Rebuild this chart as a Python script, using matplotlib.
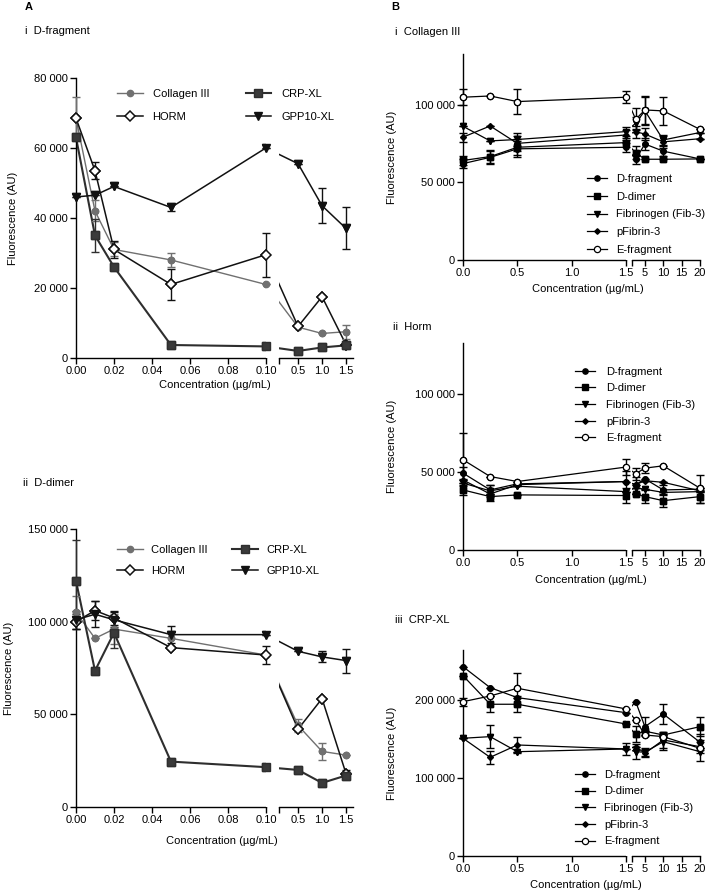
import numpy as np
import matplotlib.pyplot as plt

plt.rcParams['font.family'] = ['Liberation Sans', 'DejaVu Sans']
plt.rcParams['font.size'] = 8

# ---- panel A data (x = coating concentration) ----
a_x = [0, 0.01, 0.02, 0.05, 0.10, 0.5, 1.0, 1.5]
a_labels = ['Collagen III', 'HORM', 'CRP-XL', 'GPP10-XL']

# A-i: D-fragment
ai_means = [
    [68500, 42000, 31000, 28000, 21000, 8800, 7000, 7500],     # Collagen III
    [68500, 53500, 31000, 21000, 29500, 9000, 17500, 3800],    # HORM
    [63000, 35000, 26000, 3700, 3300, 2000, 3000, 3600],       # CRP-XL
    [46000, 46500, 49000, 43000, 60000, 55500, 43500, 37000],  # GPP10-XL
]
ai_sd = [
    [6000, 3000, 2000, 2000, 0, 0, 0, 2000],
    [0, 2500, 2500, 4500, 6300, 0, 0, 0],
    [0, 4700, 0, 0, 0, 0, 0, 0],
    [0, 0, 0, 1000, 0, 0, 5000, 6000],
]

# A-ii: D-dimer
aii_means = [
    [105000, 91000, 96000, 91000, 82000, 44000, 30000, 28000],
    [100000, 106000, 102000, 86000, 82000, 42000, 58500, 18000],
    [122000, 73500, 94000, 24500, 21500, 20000, 13000, 17000],
    [101000, 104000, 101000, 93000, 93000, 84000, 81000, 79000],
]
aii_sd = [
    [9000, 0, 8000, 4000, 0, 3500, 4500, 0],
    [4000, 5000, 4000, 0, 5000, 0, 0, 2000],
    [22000, 0, 8000, 0, 0, 0, 0, 2000],
    [5000, 7000, 4000, 4500, 0, 0, 3000, 6500],
]

# ---- panel B data ----
b_x = [0, 0.25, 0.5, 1.5, 2.5, 5, 10, 20]
b_labels = ['D-fragment', 'D-dimer', 'Fibrinogen (Fib-3)', 'pFibrin-3', 'E-fragment']

# B-i: Collagen III
bi_means = [
    [62000, 66000, 71500, 72500, 64800, 74600, 70000, 65000],
    [64000, 66500, 72500, 75500, 69000, 64800, 64800, 65000],
    [86000, 76600, 77500, 82600, 88000, 96000, 77200, 82000],
    [79000, 86200, 75000, 80400, 82500, 81000, 76000, 78000],
    [104700, 105500, 101900, 104700, 90500, 96500, 95900, 84000],
]
bi_sd = [
    [3000, 4000, 5000, 3000, 3000, 4000, 3000, 0],
    [3000, 4000, 5000, 3000, 4000, 0, 0, 0],
    [0, 0, 4000, 3000, 4000, 9000, 3000, 0],
    [3000, 0, 5000, 3000, 4000, 4000, 4000, 0],
    [5000, 0, 8000, 4000, 7000, 9000, 9000, 0],
]

# B-ii: Horm
bii_means = [
    [49400, 38600, 42500, 44000, 41900, 45700, 38600, 39100],
    [38600, 34300, 35400, 35000, 36000, 34300, 31700, 34300],
    [43000, 38000, 41000, 37500, 40000, 39000, 37000, 37500],
    [45000, 36000, 42000, 44000, 42000, 44500, 43500, 38000],
    [58000, 47200, 44000, 53300, 49000, 52600, 54100, 39700],
]
bii_sd = [
    [4000, 3000, 0, 7000, 5000, 0, 3000, 9000],
    [3000, 3000, 0, 5000, 0, 4000, 4000, 4000],
    [0, 4000, 0, 0, 0, 0, 0, 0],
    [0, 0, 0, 0, 0, 0, 0, 0],
    [17000, 0, 0, 5000, 4000, 3000, 0, 0],
]

# B-iii: CRP-XL
biii_means = [
    [242700, 215800, 203000, 183700, 197800, 165800, 182000, 145800],
    [231200, 194500, 194500, 169200, 156000, 160000, 155100, 165800],
    [150900, 153000, 133700, 137200, 133700, 133000, 146500, 133700],
    [150900, 126500, 142300, 137200, 140100, 131700, 148700, 140100],
    [197800, 205100, 215000, 188500, 174300, 155100, 153000, 138000],
]
biii_sd = [
    [0, 0, 0, 0, 0, 12000, 13000, 10000],
    [0, 10000, 10000, 0, 10000, 0, 0, 12000],
    [0, 15000, 0, 8000, 10000, 5000, 10000, 12000],
    [0, 8000, 10000, 0, 0, 5000, 10000, 8000],
    [5000, 0, 20000, 0, 0, 0, 0, 0],
]

a_styles = [
    dict(color='#707070', marker='o', ms=4.5, mfc='#707070', lw=1.0),
    dict(color='#111111', marker='D', ms=5.5, mfc='white', lw=1.1, mew=1.1),
    dict(color='#2e2e2e', marker='s', ms=5.5, mfc='#3a3a3a', lw=1.5),
    dict(color='#111111', marker='v', ms=5.5, mfc='#111111', lw=1.1),
]
b_styles = [
    dict(color='black', marker='o', ms=3.8, mfc='black', lw=0.9),
    dict(color='black', marker='s', ms=3.8, mfc='black', lw=0.9),
    dict(color='black', marker='v', ms=3.8, mfc='black', lw=0.9),
    dict(color='black', marker='D', ms=2.8, mfc='black', lw=0.9),
    dict(color='black', marker='o', ms=4.5, mfc='white', lw=0.9, mew=0.9),
]


def broken_scale(cut, gap, ratio):
    def fwd(x):
        x = np.asarray(x, dtype=float)
        return np.where(x <= cut, x, cut + gap + (x - cut) * ratio)

    def inv(y):
        y = np.asarray(y, dtype=float)
        return np.where(y <= cut, y,
                        np.where(y < cut + gap, cut, cut + (y - cut - gap) / ratio))
    return fwd, inv


def thousands(v, pos=None):
    return f"{v:,.0f}".replace(",", " ")


def make_panel(rect, x, means, sds, labels, styles, cut, gap, ratio, xmax,
               xticks, xticklabels, ymax, yticks, ylab_x, xlab_xy, leg):
    ax = fig.add_axes(rect)
    ax.set_xscale('function', functions=broken_scale(cut, gap, ratio))
    ax.set_xlim(0, xmax)
    ax.set_ylim(0, ymax)
    for m, s, lab, st in zip(means, sds, labels, styles):
        ax.plot(x, m, label=lab, zorder=2, clip_on=False, **st)
        ax.errorbar(x, m, yerr=s, fmt='none', ecolor=st['color'], elinewidth=1.0,
                    capsize=3, capthick=1.0, zorder=3, clip_on=False)
        ax.plot(x, m, ls='none', zorder=4, clip_on=False,
                **{k: v for k, v in st.items() if k != 'lw'})
    # hide the lines inside the axis break
    ax.axvspan(cut, cut * (1 + 1e-9), color='white', lw=0, zorder=2.5)

    for side in ('top', 'right', 'bottom'):
        ax.spines[side].set_visible(False)
    ax.spines['left'].set_linewidth(1.0)
    tr = ax.get_xaxis_transform()
    ax.plot([0, cut], [0, 0], color='black', lw=1.0, transform=tr, clip_on=False)
    ax.plot([cut * (1 + 1e-9), xmax], [0, 0], color='black', lw=1.0,
            transform=tr, clip_on=False)

    ax.set_xticks(xticks, xticklabels)
    ax.set_xticks([cut * (1 + 1e-9)], minor=True)
    ax.set_yticks(yticks)
    ax.yaxis.set_major_formatter(thousands)
    ax.tick_params(which='both', length=4, width=1.0, pad=2, labelsize=8)

    ax.set_ylabel('Fluorescence (AU)', fontsize=8)
    ax.yaxis.set_label_coords(ylab_x, 0.5)
    ax.set_xlabel('Concentration (µg/mL)', fontsize=8)
    ax.xaxis.set_label_coords(*xlab_xy)
    ax.xaxis.label.set_verticalalignment('center')

    handles, hl = ax.get_legend_handles_labels()
    ax.legend(handles, hl, frameon=False, loc='upper left',
              bbox_to_anchor=leg['anchor'], bbox_transform=fig.transFigure,
              ncol=leg['ncol'], borderpad=0, borderaxespad=0,
              handlelength=leg['hl'], handletextpad=leg['htp'],
              labelspacing=leg['ls'], columnspacing=leg['cs'], fontsize=8)
    return ax


fig = plt.figure(figsize=(7.09, 8.94), dpi=100)

a_cut, a_gap, a_ratio, a_xmax = 0.1, 0.00684, 0.02526, 1.65
a_ticks = [0, 0.02, 0.04, 0.06, 0.08, 0.10, 0.5, 1.0, 1.5]
a_tlabels = ['0.00', '0.02', '0.04', '0.06', '0.08', '0.10', '0.5', '1.0', '1.5']

b_cut, b_gap, b_ratio, b_xmax = 1.5, 0.0552, 0.0338, 20
b_ticks = [0, 0.5, 1.0, 1.5, 5, 10, 15, 20]
b_tlabels = ['0.0', '0.5', '1.0', '1.5', '5', '10', '15', '20']

make_panel([0.1072, 0.5996, 0.391, 0.3132], a_x, ai_means, ai_sd, a_labels, a_styles,
           a_cut, a_gap, a_ratio, a_xmax, a_ticks, a_tlabels,
           80000, [0, 20000, 40000, 60000, 80000], -0.21, (0.50, -0.095),
           dict(anchor=(0.165, 0.901), ncol=2, hl=2.3, htp=0.9, ls=1.2, cs=3.3))

make_panel([0.1072, 0.0973, 0.391, 0.311], a_x, aii_means, aii_sd, a_labels, a_styles,
           a_cut, a_gap, a_ratio, a_xmax, a_ticks, a_tlabels,
           150000, [0, 50000, 100000, 150000], -0.225, (0.527, -0.122),
           dict(anchor=(0.165, 0.390), ncol=2, hl=2.3, htp=0.8, ls=0.95, cs=2.2))

make_panel([0.653, 0.7092, 0.3343, 0.2304], b_x, bi_means, bi_sd, b_labels, b_styles,
           b_cut, b_gap, b_ratio, b_xmax, b_ticks, b_tlabels,
           132500, [0, 50000, 100000], -0.28, (0.527, -0.143),
           dict(anchor=(0.828, 0.805), ncol=1, hl=1.8, htp=0.8, ls=0.68, cs=1.0))

make_panel([0.653, 0.3848, 0.3343, 0.2315], b_x, bii_means, bii_sd, b_labels, b_styles,
           b_cut, b_gap, b_ratio, b_xmax, b_ticks, b_tlabels,
           133000, [0, 50000, 100000], -0.28, (0.54, -0.147),
           dict(anchor=(0.811, 0.590), ncol=1, hl=1.8, htp=1.0, ls=0.6, cs=1.0))

make_panel([0.653, 0.0425, 0.3343, 0.2304], b_x, biii_means, biii_sd, b_labels, b_styles,
           b_cut, b_gap, b_ratio, b_xmax, b_ticks, b_tlabels,
           264000, [0, 100000, 200000], -0.28, (0.52, -0.139),
           dict(anchor=(0.811, 0.139), ncol=1, hl=1.8, htp=0.8, ls=0.6, cs=1.0))

# panel letters and titles
W, H = 709, 894
for px, py, txt, bold in [(25, 7, 'A', True), (25, 31, 'i  D-fragment', False),
                          (23, 483, 'ii  D-dimer', False), (391, 7, 'B', True),
                          (395, 32, 'i  Collagen III', False), (393, 327, 'ii  Horm', False),
                          (395, 620, 'iii  CRP-XL', False)]:
    fig.text(px / W, 1 - py / H, txt, ha='left', va='center', fontsize=8,
             fontweight='bold' if bold else 'normal')

fig.savefig('out.png', dpi=100)
